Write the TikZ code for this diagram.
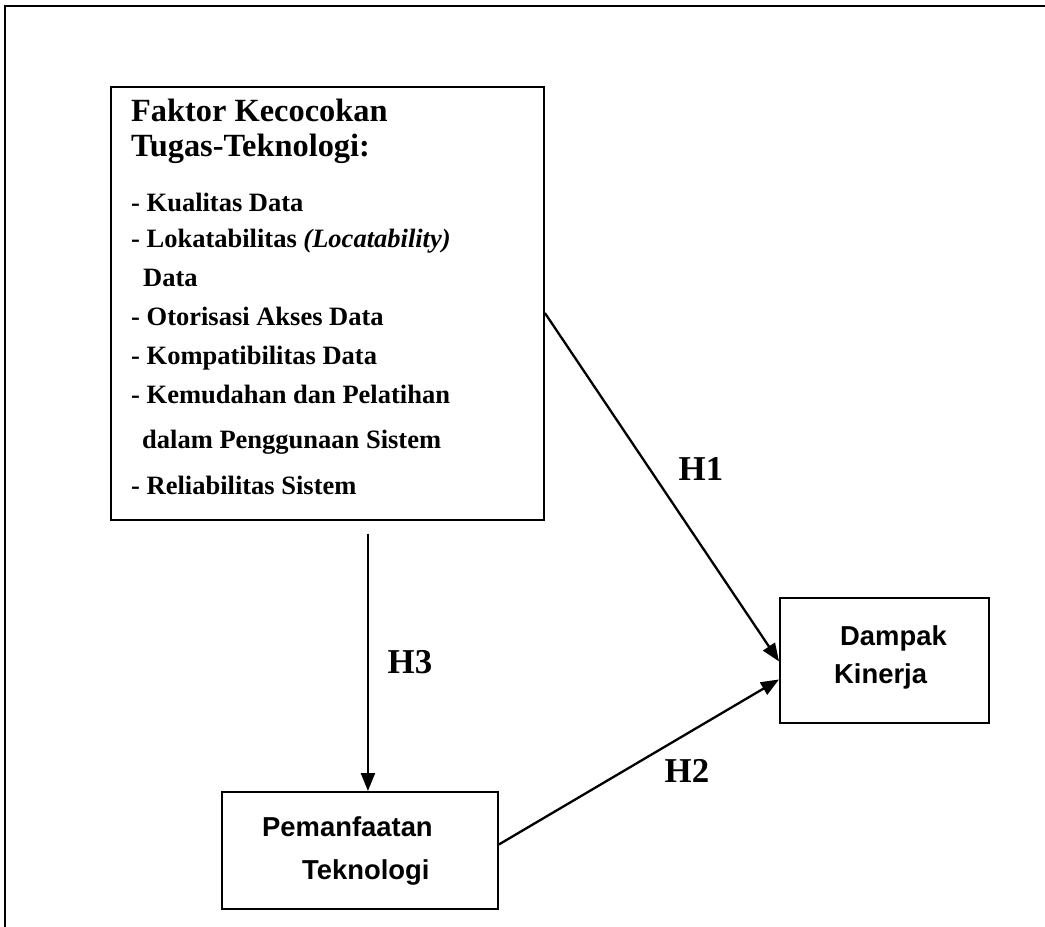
\documentclass[tikz,border=0pt]{standalone}
\usepackage{fontspec}
\setmainfont{Liberation Serif}
\newfontfamily\arialfont{Liberation Sans}
\usetikzlibrary{arrows.meta}
\begin{document}
\begin{tikzpicture}[x=1bp,y=-1bp,
  box/.style={draw, line width=1.9bp, anchor=north west, inner sep=0},
  ttl/.style={anchor=base west, inner sep=0, font=\fontsize{32.5}{32.5}\selectfont\bfseries},
  itm/.style={anchor=base west, inner sep=0, font=\fontsize{26.6}{26.6}\selectfont\bfseries},
  sans/.style={anchor=base west, inner sep=0, font=\fontsize{27.5}{27.5}\selectfont\arialfont\bfseries},
  hyp/.style={inner sep=0, font=\fontsize{35}{35}\selectfont\bfseries},
  arr/.style={line width=2.3bp, -{Triangle[length=18bp,width=14bp]}},
  frame/.style={line width=2.6bp}]
\useasboundingbox (0,0) rectangle (1045,927);
\fill[white] (0,0) rectangle (1045,927);
% outer frame (top and left edges)
\coordinate (ftl) at (5,6);
\coordinate (ftr) at (1045,6);
\coordinate (fbl) at (5,927);
\draw[frame] (ftr) -- (ftl) -- (fbl);
% boxes
\node[box, minimum width=433bp, minimum height=433bp] (f) at (110,86) {};
\node[box, minimum width=209bp, minimum height=125bp] (dk) at (779,597) {};
\node[box, minimum width=276bp, minimum height=117bp] (pt) at (221,791) {};
% box 1 text
\node[ttl] (t1) at (131,121) {Faktor Kecocokan};
\node[ttl] (t2) at (131,156) {Tugas-Teknologi:};
\node[itm] (t3) at (131,211) {- Kualitas Data};
\node[itm] (t4) at (131,247) {- Lokatabilitas \textit{(Locatability)}};
\node[itm] (t5) at (143,286) {Data};
\node[itm] (t6) at (131,325) {- Otorisasi Akses Data};
\node[itm] (t7) at (131,364) {- Kompatibilitas Data};
\node[itm] (t8) at (131,403) {- Kemudahan dan Pelatihan};
\node[itm] (t9) at (142,448) {dalam Penggunaan Sistem};
\node[itm] (t10) at (131,494) {- Reliabilitas Sistem};
% other box texts
\node[sans] (d1) at (840,645) {Dampak};
\node[sans] (d2) at (834,683) {Kinerja};
\node[sans] (p1) at (262,836) {Pemanfaatan};
\node[sans] (p2) at (302,879) {Teknologi};
% connectors
\path (f.north east) ++(0,227) coordinate (h1s);
\path ([xshift=40.5bp,yshift=-13bp]f.south) coordinate (h3s);
\draw[arr] (h1s) -- ([yshift=-1bp]dk.west);
\draw[arr] ([yshift=6bp]pt.east) -- ([yshift=-19bp]dk.west);
\draw[arr] (h3s) -- (h3s |- pt.north);
% labels
\node[hyp] (h1) at (701,469) {H1};
\node[hyp] (h2) at (687,771) {H2};
\node[hyp] (h3) at (410,662) {H3};
\end{tikzpicture}
\end{document}
